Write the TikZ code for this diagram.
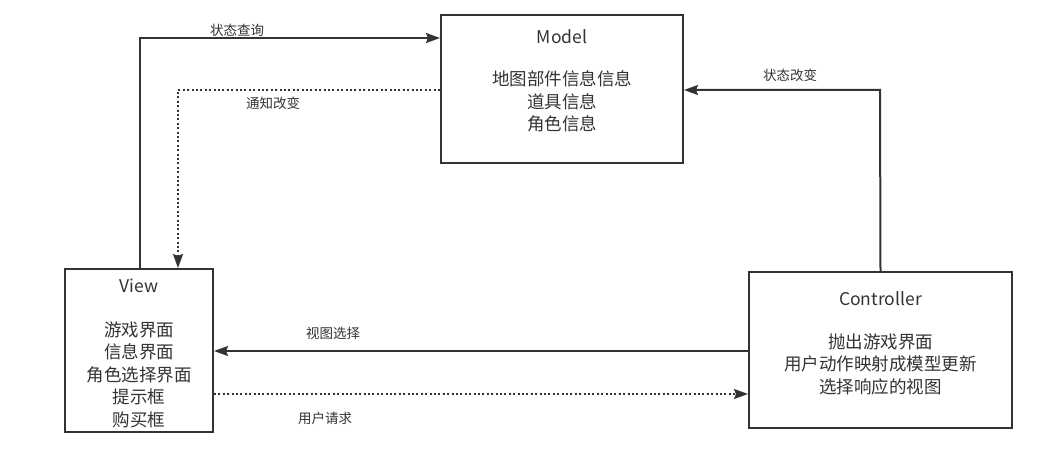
\documentclass[tikz,border=0pt]{standalone}
\usepackage{fontspec}
\setmainfont{Noto Sans CJK SC}
\usetikzlibrary{arrows.meta}
\definecolor{ink}{HTML}{333333}
\tikzset{
  box/.style={draw=ink, line width=2pt, fill=white, inner sep=0pt},
  boxtext/.style={text=ink, font=\fontsize{17.5}{22.5}\selectfont, align=center, inner sep=0pt, anchor=north},
  lbl/.style={text=ink, font=\fontsize{13.5}{15}\selectfont, inner sep=0pt},
  conn/.style={draw=ink, line width=2pt, -{Stealth[length=14pt,width=10pt,inset=2pt]}},
  dotconn/.style={conn, dash pattern=on 2pt off 2.4pt}
}
\begin{document}
\begin{tikzpicture}[x=1pt,y=-1pt]
\useasboundingbox (0,0) rectangle (1063,454);
\fill[white] (0,0) rectangle (1063,454);
% boxes
\node[box, minimum width=242pt, minimum height=148pt] (model) at (562,89) {};
\node[box, minimum width=148pt, minimum height=163pt] (view) at (139,350.5) {};
\node[box, minimum width=263pt, minimum height=156pt] (ctrl) at (880.5,350) {};
% box texts
\node[boxtext] (mt) at (562,29) {Model\\[20pt]地图部件信息信息\\道具信息\\角色信息};
\node[boxtext] (vt) at (139,279) {View\\[21pt]游戏界面\\信息界面\\角色选择界面\\提示框\\购买框};
\node[boxtext] (ct) at (880.5,291) {Controller\\[20.5pt]抛出游戏界面\\用户动作映射成模型更新\\选择响应的视图};
% connectors
\coordinate (c1) at (140,38);
\coordinate (c2) at (178,90);
\coordinate (c3) at (880,90);
\draw[conn] (view.north -| c1) -- (c1) -- (c1 -| model.west);
\draw[dotconn] (c2 -| model.west) -- (c2) -- (c2 |- view.north);
\draw[conn] (ctrl.north) -- (c3) -- (c3 -| model.east);
\coordinate (c4) at (480,351);
\coordinate (c5) at (480,394);
\draw[conn] (c4 -| ctrl.west) -- (c4 -| view.east);
\draw[dotconn] (c5 -| view.east) -- (c5 -| ctrl.west);
% labels
\node[lbl] (l1) at (237,30) {状态查询};
\node[lbl] (l2) at (273,103) {通知改变};
\node[lbl] (l3) at (790,75) {状态改变};
\node[lbl] (l4) at (333,333) {视图选择};
\node[lbl] (l5) at (325,418) {用户请求};
\end{tikzpicture}
\end{document}
